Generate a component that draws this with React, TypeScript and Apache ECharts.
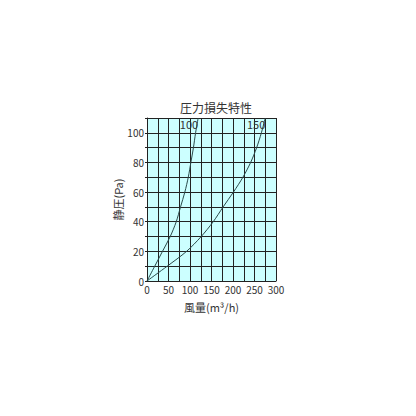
import { useEffect, useRef } from "react";
import * as echarts from "echarts";

// 風量 (m³/h) vs 静圧 (Pa)
const pressure = [0, 10, 20, 30, 40, 50, 60, 70, 80, 90, 100, 110];
const flow100 = [0, 18, 36, 54, 68, 78, 88, 96, 102, 108, 113, 119];
const flow150 = [0, 47, 92, 126, 154, 177, 201, 223, 241, 255, 266, 275];
const seriesNames = ["100", "150"];
const xTicks = [0, 50, 100, 150, 200, 250, 300];
const yTicks = [0, 20, 40, 60, 80, 100];

const FONT = "'Noto Sans CJK JP', 'Noto Sans', sans-serif";

export default function App() {
  const chartRef = useRef<HTMLDivElement>(null);

  useEffect(() => {
    if (!chartRef.current) return;
    const chart = echarts.init(chartRef.current, null, { renderer: "svg" });

    const makeSeries = (name: string, flows: number[]) => ({
      name,
      type: "line",
      data: flows.map((x, i) => [x, pressure[i]]),
      smooth: 0.3,
      showSymbol: false,
      lineStyle: { color: "#2a4a4a", width: 1 },
      endLabel: {
        show: true,
        formatter: name,
        align: "right",
        offset: [-8, 6],
        fontSize: 11,
        fontFamily: FONT,
        color: "#333",
      },
    });

    chart.setOption({
      animation: false,
      title: {
        text: "圧力損失特性",
        left: 203,
        textAlign: "center",
        top: 88,
        textStyle: { fontSize: 12, fontWeight: "normal", color: "#333", fontFamily: FONT },
      },
      grid: { left: 139, right: 132, top: 110, bottom: 127, containLabel: false },
      xAxis: {
        type: "value",
        min: 0,
        max: 300,
        interval: 25,
        name: "風量(m³/h)",
        nameLocation: "middle",
        nameGap: 20,
        nameTextStyle: { fontSize: 11, color: "#333", fontFamily: FONT },
        axisLine: { show: true, lineStyle: { color: "#222", width: 1 } },
        axisTick: { show: false },
        axisLabel: {
          fontSize: 10,
          color: "#333",
          margin: 3,
          fontFamily: FONT,
          formatter: (v: number) => (xTicks.includes(v) ? String(v) : ""),
        },
        splitLine: { show: true, lineStyle: { color: "#222", width: 1 } },
      },
      yAxis: {
        type: "value",
        min: 0,
        max: 110,
        interval: 10,
        name: "静圧(Pa)",
        nameLocation: "middle",
        nameGap: 22,
        nameRotate: 90,
        nameTextStyle: { fontSize: 11, color: "#333", fontFamily: FONT },
        axisLine: { show: true, lineStyle: { color: "#222", width: 1 } },
        axisTick: { show: true, length: 2, lineStyle: { color: "#222" } },
        axisLabel: {
          fontSize: 10,
          color: "#333",
          margin: 3,
          fontFamily: FONT,
          formatter: (v: number) => (yTicks.includes(v) ? String(v) : ""),
        },
        splitLine: { show: true, lineStyle: { color: "#222", width: 1 } },
        splitArea: { show: true, areaStyle: { color: ["#ccffff", "#ccffff"] } },
      },
      series: [makeSeries(seriesNames[0], flow100), makeSeries(seriesNames[1], flow150)],
    });

    return () => chart.dispose();
  }, []);

  return <div ref={chartRef} style={{ width: 400, height: 400 }} />;
}
